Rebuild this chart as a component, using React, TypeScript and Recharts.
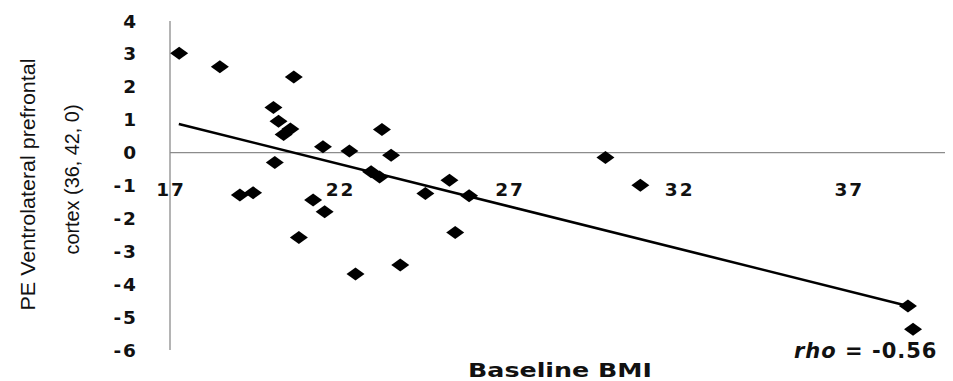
import React from 'react';
import { ScatterChart, Scatter, XAxis, YAxis, ReferenceLine } from 'recharts';

const bmi = [17.27, 18.47, 20.65, 20.05, 20.2, 20.55, 20.35, 23.25, 21.51, 22.29, 23.52, 20.09, 22.93, 23.18, 25.24, 19.06, 19.45, 21.22, 21.56, 20.8, 24.53, 25.82, 25.41, 22.47, 23.79, 29.84, 30.87, 38.76, 38.91];
const pe = [3.02, 2.61, 2.3, 1.37, 0.95, 0.72, 0.55, 0.7, 0.18, 0.05, -0.08, -0.3, -0.58, -0.74, -0.84, -1.29, -1.22, -1.44, -1.8, -2.58, -1.24, -1.31, -2.43, -3.69, -3.42, -0.15, -0.99, -4.66, -5.37];
const trendX = [17.26, 38.76];
const trendY = [0.87, -4.66];
const xTicks = [17, 22, 27, 32, 37];
const yTicks = [-6, -5, -4, -3, -2, -1, 0, 1, 2, 3, 4];

const points = bmi.map((x, i) => ({ x, y: pe[i] }));
const trend = trendX.map((x, i) => ({ x, y: trendY[i] }));

const Diamond = (p: any) => {
  const { cx, cy } = p;
  if (cx == null || cy == null) return <g />;
  return <polygon points={`${cx - 9},${cy} ${cx},${cy - 6.5} ${cx + 9},${cy} ${cx},${cy + 6.5}`} fill="#000" />;
};
const Nothing = () => <g />;

const tickFont = { fontFamily: 'DejaVu Sans', fontWeight: 700, fontSize: 18.5, fill: '#111' };

const XTick = (p: any) => {
  const { x, y, payload } = p;
  return (
    <text x={x + 1} y={y - 161} textAnchor="middle" dominantBaseline="central" letterSpacing={2} {...tickFont}>
      {payload.value}
    </text>
  );
};

const YTick = (p: any) => {
  const { x, y, payload } = p;
  return (
    <text x={x + 1} y={y} textAnchor="end" dominantBaseline="central" letterSpacing={2} {...tickFont}>
      {payload.value}
    </text>
  );
};

const YLabel = (p: any) => {
  const vb = p.viewBox || { x: 0, y: 13, width: 162, height: 329 };
  const cy = vb.y + vb.height / 2 - 1;
  const common = { fontFamily: 'Liberation Sans', fontSize: 20.5, fill: '#111', textAnchor: 'middle' as const, dominantBaseline: 'central' as const, lengthAdjust: 'spacingAndGlyphs' as const };
  return (
    <g>
      <text transform={`translate(${vb.x + 19}, ${cy}) rotate(-90)`} textLength={252} {...common}>PE Ventrolateral prefrontal</text>
      <text transform={`translate(${vb.x + 63}, ${cy - 5}) rotate(-90)`} textLength={150} {...common}>cortex (36, 42, 0)</text>
    </g>
  );
};

const XLabel = (p: any) => {
  const vb = p.viewBox || { x: 162, y: 342, width: 780, height: 31 };
  return (
    <text x={vb.x + vb.width / 2} y={vb.y + vb.height - 4} textAnchor="middle" textLength={184} lengthAdjust="spacingAndGlyphs"
      fontFamily="DejaVu Sans" fontWeight={700} fontSize={19} fill="#111">
      Baseline BMI
    </text>
  );
};

export default function App() {
  return (
    <div style={{ position: 'relative', width: 945, height: 373 }}>
      <ScatterChart width={945} height={373} margin={{ top: 13, right: 3, bottom: 0, left: 0 }}>
        <XAxis type="number" dataKey="x" domain={[17, 40]} ticks={xTicks} axisLine={false} tickLine={false}
          tickSize={0} tickMargin={0} height={31} tick={<XTick />} label={<XLabel />} interval={0} />
        <YAxis type="number" dataKey="y" domain={[-6, 4]} ticks={yTicks} width={162} tickLine={false} tickSize={0}
          tickMargin={33} axisLine={{ stroke: '#8c8c8c', strokeWidth: 1.3 }} tick={<YTick />} label={<YLabel />} interval={0} />
        <ReferenceLine y={0} stroke="#8c8c8c" strokeWidth={1.3} />
        <Scatter data={trend} line={{ stroke: '#000', strokeWidth: 2.6 }} shape={<Nothing />} isAnimationActive={false} legendType="none" />
        <Scatter data={points} shape={<Diamond />} isAnimationActive={false} fill="#000" />
      </ScatterChart>
      <div style={{ position: 'absolute', left: 786, top: 331, fontFamily: 'DejaVu Sans', fontWeight: 700, fontSize: 21, color: '#111', whiteSpace: 'nowrap', letterSpacing: 1 }}>
        <i>rho</i> = -0.56
      </div>
    </div>
  );
}
